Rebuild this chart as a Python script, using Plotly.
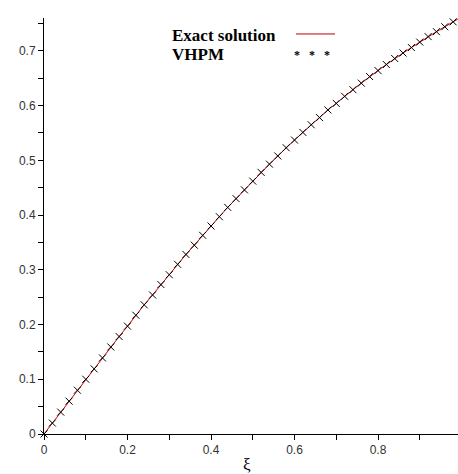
import plotly.graph_objects as go

xi = [0.00, 0.02, 0.04, 0.06, 0.08, 0.10, 0.12, 0.14, 0.16, 0.18,
      0.20, 0.22, 0.24, 0.26, 0.28, 0.30, 0.32, 0.34, 0.36, 0.38,
      0.40, 0.42, 0.44, 0.46, 0.48, 0.50, 0.52, 0.54, 0.56, 0.58,
      0.60, 0.62, 0.64, 0.66, 0.68, 0.70, 0.72, 0.74, 0.76, 0.78,
      0.80, 0.82, 0.84, 0.86, 0.88, 0.90, 0.92, 0.94, 0.96, 0.98, 1.00]
exact = [0.000, 0.020, 0.040, 0.060, 0.080, 0.100, 0.119, 0.139, 0.159, 0.178,
         0.197, 0.217, 0.236, 0.254, 0.273, 0.291, 0.310, 0.328, 0.345, 0.363,
         0.380, 0.397, 0.414, 0.430, 0.446, 0.462, 0.478, 0.493, 0.508, 0.523,
         0.537, 0.551, 0.565, 0.578, 0.592, 0.604, 0.617, 0.629, 0.641, 0.653,
         0.664, 0.675, 0.686, 0.696, 0.706, 0.716, 0.726, 0.735, 0.744, 0.753, 0.762]
vhpm = [0.000, 0.020, 0.040, 0.060, 0.080, 0.100, 0.119, 0.139, 0.159, 0.178,
        0.197, 0.217, 0.236, 0.254, 0.273, 0.291, 0.310, 0.328, 0.345, 0.363,
        0.380, 0.397, 0.414, 0.430, 0.446, 0.462, 0.478, 0.493, 0.508, 0.523,
        0.537, 0.551, 0.565, 0.578, 0.592, 0.604, 0.617, 0.629, 0.641, 0.653,
        0.664, 0.675, 0.686, 0.696, 0.706, 0.716, 0.726, 0.735, 0.744, 0.753, 0.762]
x_ticks = [0, 0.2, 0.4, 0.6, 0.8, 1]
y_ticks = [0, 0.1, 0.2, 0.3, 0.4, 0.5, 0.6, 0.7]

W, H = 458, 474
L, R, T, B = 44, 0, 18, 39.5
pw, ph = W - L - R, H - T - B

def px(x):
    return (x - L) / pw

def py(y):
    return (H - B - y) / ph

fig = go.Figure()
fig.add_trace(go.Scatter(x=xi, y=exact, mode="lines",
                         line=dict(color="#c00000", width=1),
                         showlegend=False, cliponaxis=False))
fig.add_trace(go.Scatter(x=xi, y=vhpm, mode="markers",
                         marker=dict(symbol="x-thin", size=7,
                                     line=dict(color="black", width=1)),
                         showlegend=False, cliponaxis=False))

serif = "Liberation Serif, Times New Roman, serif"
fig.add_annotation(xref="paper", yref="paper", x=px(170), y=py(36),
                   xanchor="left", yanchor="middle", showarrow=False,
                   text="<b>Exact solution</b>",
                   font=dict(family=serif, size=17, color="black"))
fig.add_annotation(xref="paper", yref="paper", x=px(170), y=py(55),
                   xanchor="left", yanchor="middle", showarrow=False,
                   text="<b>VHPM</b>",
                   font=dict(family=serif, size=17, color="black"))
fig.add_annotation(xref="paper", yref="paper", x=px(312), y=py(55),
                   xanchor="center", yanchor="middle", showarrow=False,
                   text="<b>*   *   *</b>",
                   font=dict(family=serif, size=12, color="black"))
fig.add_shape(type="line", xref="paper", yref="paper",
              x0=px(296), x1=px(335), y0=py(34), y1=py(34),
              line=dict(color="#c00000", width=1))
fig.add_annotation(xref="paper", yref="paper", x=px(247), y=py(465),
                   xanchor="center", yanchor="middle", showarrow=False,
                   text="ξ",
                   font=dict(family=serif, size=17, color="black"))

tickfont = dict(family="Liberation Sans, Arial, sans-serif", size=12, color="#333")
fig.update_xaxes(range=[0, pw / 417.5], tickvals=x_ticks, ticktext=["0", "0.2", "0.4", "0.6", "0.8", "1"],
                 ticks="outside", ticklen=5, tickcolor="black",
                 minor=dict(dtick=0.1, tick0=0, ticks="outside", ticklen=5, tickcolor="black"),
                 showline=True, linecolor="black", linewidth=1,
                 showgrid=False, zeroline=False, tickfont=tickfont)
fig.update_yaxes(range=[0, 0.76], tickvals=y_ticks, ticktext=["0", "0.1", "0.2", "0.3", "0.4", "0.5", "0.6", "0.7"],
                 ticks="outside", ticklen=5, tickcolor="black",
                 minor=dict(dtick=0.05, tick0=0, ticks="outside", ticklen=5, tickcolor="black"),
                 showline=True, linecolor="black", linewidth=1,
                 showgrid=False, zeroline=False, tickfont=tickfont)
fig.update_layout(width=W, height=H, margin=dict(l=L, r=R, t=T, b=B),
                  plot_bgcolor="white", paper_bgcolor="white")
fig.write_html("out.html")
